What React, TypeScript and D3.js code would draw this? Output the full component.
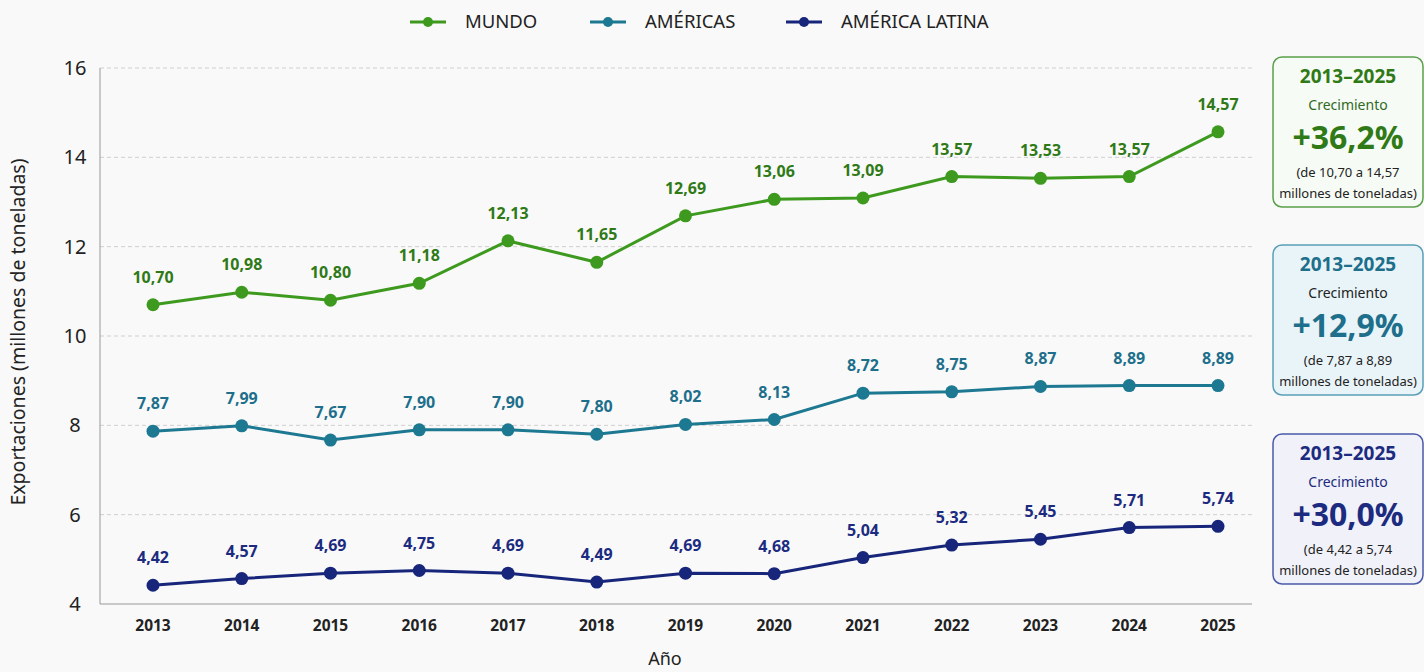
import React, { useEffect } from 'react';
import * as d3 from 'd3';

const years = [2013, 2014, 2015, 2016, 2017, 2018, 2019, 2020, 2021, 2022, 2023, 2024, 2025];
const mundo = [10.7, 10.98, 10.8, 11.18, 12.13, 11.65, 12.69, 13.06, 13.09, 13.57, 13.53, 13.57, 14.57];
const americas = [7.87, 7.99, 7.67, 7.9, 7.9, 7.8, 8.02, 8.13, 8.72, 8.75, 8.87, 8.89, 8.89];
const latina = [4.42, 4.57, 4.69, 4.75, 4.69, 4.49, 4.69, 4.68, 5.04, 5.32, 5.45, 5.71, 5.74];
const yTicks = [4, 6, 8, 10, 12, 14, 16];

const seriesNames = ['MUNDO', 'AMÉRICAS', 'AMÉRICA LATINA'];
const growth = ['+36,2%', '+12,9%', '+30,0%'];

const FONT = '"Noto Sans", "Open Sans", sans-serif';

const styles = [
  { line: '#3d9a1e', label: '#2f7a17', border: '#5aa04a', fill: '#f7fbf5', sub: '#2f6a1f' },
  { line: '#1d7891', label: '#1d6f8b', border: '#5a9fb8', fill: '#e9f4f8', sub: '#222' },
  { line: '#17267a', label: '#1c2b80', border: '#4a5aa8', fill: '#f0f1f9', sub: '#1c2b80' },
];

const fmt = (v: number) => v.toFixed(2).replace('.', ',');

const App: React.FC = () => {
  const width = 1424;
  const height = 672;
  const plot = { left: 100, right: 1252, top: 68, bottom: 604 };

  useEffect(() => {
    document.body.style.margin = '0';
    document.body.style.background = '#f9f9f9';
  }, []);

  const x = d3.scalePoint<number>().domain(years).range([153, 1218]);
  const y = d3.scaleLinear().domain([4, 16]).range([plot.bottom, plot.top]);

  const data = [mundo, americas, latina];
  const line = d3.line<number>().x((_, i) => x(years[i])!).y(d => y(d));

  const legendX = [410, 590, 786];
  const boxTop = [57, 245, 434];

  return (
    <svg width={width} height={height} style={{ display: 'block', fontFamily: FONT }}>
      <rect width={width} height={height} fill="#f9f9f9" />

      {/* legend */}
      {seriesNames.map((n, i) => (
        <g key={n} transform={`translate(${legendX[i]},22)`}>
          <line x1={0} x2={36} stroke={styles[i].line} strokeWidth={3} />
          <circle cx={18} r={5} fill={styles[i].line} />
          <text x={55} dy="0.35em" fontSize={18.5} fill="#222">{n}</text>
        </g>
      ))}

      {/* grid + y axis */}
      {yTicks.map(t => (
        <g key={t}>
          {t > 4 && (
            <line x1={plot.left} x2={plot.right} y1={y(t)} y2={y(t)} stroke="#cfcfcf" strokeDasharray="4,3" />
          )}
          <text x={75} y={y(t)} dy="0.35em" textAnchor="middle" fontSize={20} fill="#222">{t}</text>
        </g>
      ))}
      <line x1={plot.left} x2={plot.left} y1={plot.top} y2={plot.bottom} stroke="#999" />
      <line x1={plot.left} x2={plot.right} y1={plot.bottom} y2={plot.bottom} stroke="#999" />

      {years.map(yr => (
        <text key={yr} x={x(yr)} y={631} textAnchor="middle" fontSize={15.5} fontWeight={700} fill="#222">{yr}</text>
      ))}

      <text x={665} y={665} textAnchor="middle" fontSize={18} fill="#222">Año</text>
      <text transform="translate(25,332) rotate(-90)" textAnchor="middle" fontSize={19.5} fill="#222">
        Exportaciones (millones de toneladas)
      </text>

      {/* series */}
      {data.map((s, si) => (
        <g key={si}>
          <path d={line(s) || ''} fill="none" stroke={styles[si].line} strokeWidth={3} />
          {s.map((v, i) => (
            <g key={i}>
              <circle cx={x(years[i])} cy={y(v)} r={6.5} fill={styles[si].line} />
              <text x={x(years[i])} y={y(v) - 22} textAnchor="middle" fontSize={16} fontWeight={700} fill={styles[si].label}>
                {fmt(v)}
              </text>
            </g>
          ))}
        </g>
      ))}

      {/* growth boxes */}
      {data.map((s, si) => {
        const cx = 1348;
        const t = boxTop[si];
        const c = styles[si];
        return (
          <g key={si}>
            <rect x={1273} y={t} width={150} height={150} rx={9} fill={c.fill} stroke={c.border} strokeWidth={1.5} />
            <text x={cx} y={t + 26} textAnchor="middle" fontSize={19} fontWeight={700} fill={c.label}>2013–2025</text>
            <text x={cx} y={t + 53} textAnchor="middle" fontSize={14} fill={c.sub}>Crecimiento</text>
            <text x={cx} y={t + 92} textAnchor="middle" fontSize={32} fontWeight={700} fill={c.label}>{growth[si]}</text>
            <text x={cx} y={t + 120} textAnchor="middle" fontSize={13} fill="#222">
              (de {fmt(s[0])} a {fmt(s[s.length - 1])}
            </text>
            <text x={cx} y={t + 141} textAnchor="middle" fontSize={13} fill="#222">millones de toneladas)</text>
          </g>
        );
      })}
    </svg>
  );
};

export default App;
